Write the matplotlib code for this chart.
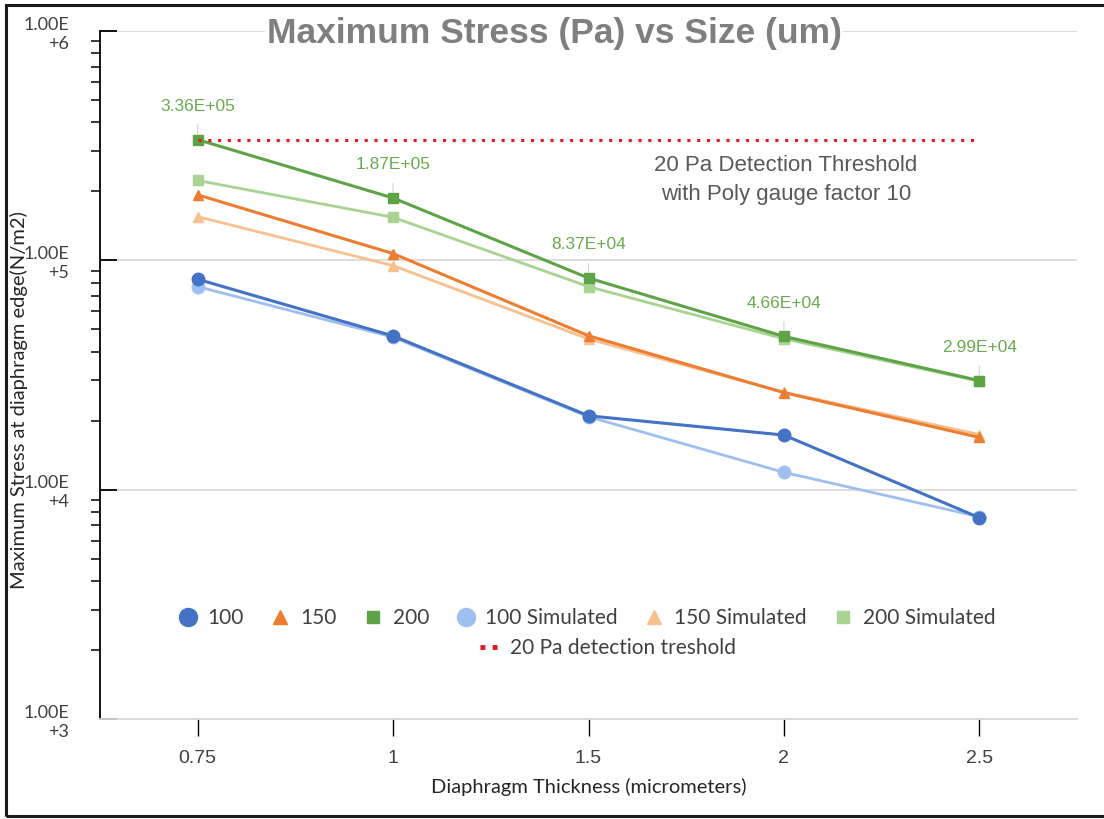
import matplotlib
matplotlib.use("Agg")
import matplotlib.pyplot as plt
from matplotlib.lines import Line2D
from matplotlib.patches import Rectangle
from matplotlib.ticker import LogLocator, FixedLocator, NullFormatter
import numpy as np

# ---- data ----
thickness = ["0.75", "1", "1.5", "2", "2.5"]
s100 = [8.27e4, 4.68e4, 2.10e4, 1.73e4, 7.55e3]
s150 = [1.93e5, 1.07e5, 4.69e4, 2.65e4, 1.69e4]
s200 = [3.36e5, 1.87e5, 8.37e4, 4.66e4, 2.99e4]
s100_sim = [7.68e4, 4.62e4, 2.08e4, 1.19e4, 7.62e3]
s150_sim = [1.55e5, 9.48e4, 4.54e4, 2.66e4, 1.74e4]
s200_sim = [2.23e5, 1.54e5, 7.68e4, 4.55e4, 2.97e4]
threshold = 3.36e5
data_labels = ["3.36E+05", "1.87E+05", "8.37E+04", "4.66E+04", "2.99E+04"]
ytick_vals = [1e3, 1e4, 1e5, 1e6]
ytick_labels = ["1.00E\n+3", "1.00E\n+4", "1.00E\n+5", "1.00E\n+6"]

# ---- colours ----
c100, c150, c200 = "#4472C4", "#ED7D31", "#5FA347"
c100s, c150s, c200s = "#9FBFF0", "#F6C08F", "#A8D392"
lab_green = "#6AAA4F"

fig = plt.figure(figsize=(11.04, 8.19), dpi=100)
ax = fig.add_axes([100 / 1104, 100 / 819, 977 / 1104, 688 / 819])

x = np.arange(len(thickness))

ax.plot(x, s200_sim, color=c200s, lw=2.0, marker="s", ms=6.5, zorder=3)
ax.plot(x, s150_sim, color=c150s, lw=2.0, marker="^", ms=7.5, zorder=3)
ax.plot(x, s100_sim, color=c100s, lw=2.0, marker="o", ms=9, zorder=3)
ax.plot(x, s100, color=c100, lw=2.2, marker="o", ms=9, zorder=4)
ax.plot(x, s150, color=c150, lw=2.2, marker="^", ms=7.5, zorder=4)
ax.plot(x, s200, color=c200, lw=2.2, marker="s", ms=6.5, zorder=4)
ax.plot(x, [threshold] * len(x), color="#E8141E", lw=2.2,
        linestyle=(0, (1, 2.2)), zorder=5)

for xi, v, t in zip(x, s200, data_labels):
    ax.annotate(t, xy=(xi, v), xytext=(0, 24), textcoords="offset points",
                ha="center", va="center", color=lab_green, fontsize=12.5,
                family="Liberation Sans",
                arrowprops=dict(arrowstyle="-", color="#D0D0D0", lw=0.8,
                                shrinkA=6, shrinkB=4), zorder=6)

ax.text(3.01, 2.24e5, "20 Pa Detection Threshold\nwith Poly gauge factor 10",
        ha="center", va="center", fontsize=16, color="#595959",
        family="Liberation Sans", linespacing=1.45)

# ---- axes ----
ax.set_yscale("log")
ax.set_ylim(1e3, 1e6)
ax.set_xlim(-0.5, 4.5)
ax.set_xticks(x)
ax.set_xticklabels(thickness, fontsize=14, family="Liberation Sans", color="#404040")
ax.yaxis.set_major_locator(FixedLocator(ytick_vals))
ax.set_yticklabels(ytick_labels, fontsize=13, family="Lato", color="#404040",
                   linespacing=1.25)
ax.yaxis.set_minor_locator(LogLocator(base=10, subs=np.arange(2, 10)))
ax.yaxis.set_minor_formatter(NullFormatter())
ax.tick_params(axis="y", which="major", direction="in", length=12, width=1.3,
               pad=22, color="black")
ax.tick_params(axis="y", which="minor", direction="out", length=6.5, width=1.1,
               color="black")
ax.tick_params(axis="x", which="major", direction="out", length=12, width=1.0,
               pad=10, color="black")
ax.yaxis.grid(True, which="major", color="#D9D9D9", lw=1.3)
ax.set_axisbelow(True)
for s in ["top", "right"]:
    ax.spines[s].set_visible(False)
ax.spines["left"].set_color("black")
ax.spines["left"].set_linewidth(1.3)
ax.spines["bottom"].set_color("#D9D9D9")
ax.spines["bottom"].set_linewidth(1.3)

ax.set_xlabel("Diaphragm Thickness (micrometers)", fontsize=14.5, family="Lato",
              color="#262626", labelpad=8)
ax.set_ylabel("Maximum Stress at diaphragm edge(N/m2)", fontsize=14.5, family="Lato",
              color="#262626")
ax.yaxis.set_label_coords(-72 / 977, (719 - 400) / 688)

# ---- legends ----
h = [
    Line2D([], [], color=c100, marker="o", ls="none", ms=13),
    Line2D([], [], color=c150, marker="^", ls="none", ms=10),
    Line2D([], [], color=c200, marker="s", ls="none", ms=8.5),
    Line2D([], [], color=c100s, marker="o", ls="none", ms=13),
    Line2D([], [], color=c150s, marker="^", ls="none", ms=10),
    Line2D([], [], color=c200s, marker="s", ls="none", ms=8.5),
]
labels = ["100", "150", "200", "100 Simulated", "150 Simulated", "200 Simulated"]
leg1 = ax.legend(h, labels, ncol=6, loc="center", bbox_to_anchor=(0.498, 0.147),
                 frameon=False, handlelength=1.0, handletextpad=0.45,
                 columnspacing=1.25, prop={"family": "Lato", "size": 15},
                 labelcolor="#404040")
ax.add_artist(leg1)
h2 = [Line2D([], [], color="#E8141E", lw=3.5, linestyle=(0, (1, 1.5)))]
ax.legend(h2, ["20 Pa detection treshold"], loc="center",
          bbox_to_anchor=(0.52, 0.103), frameon=False, handlelength=0.8,
          handletextpad=0.6, prop={"family": "Lato", "size": 15},
          labelcolor="#404040")

# ---- title ----
fig.text(554 / 1104, 1 - 34 / 819, "Maximum Stress (Pa) vs Size (um)",
         ha="center", va="center", fontsize=25.5, fontweight="bold",
         family="Liberation Sans", color="#7F7F7F",
         bbox=dict(facecolor="white", edgecolor="none", pad=1))

# ---- outer frame ----
fig.patches.append(Rectangle((6 / 1104, 3 / 819), 1.2, 811 / 819,
                             transform=fig.transFigure, fill=False,
                             edgecolor="#1A1A1A", lw=2.2))

fig.savefig("out.png", dpi=100)
